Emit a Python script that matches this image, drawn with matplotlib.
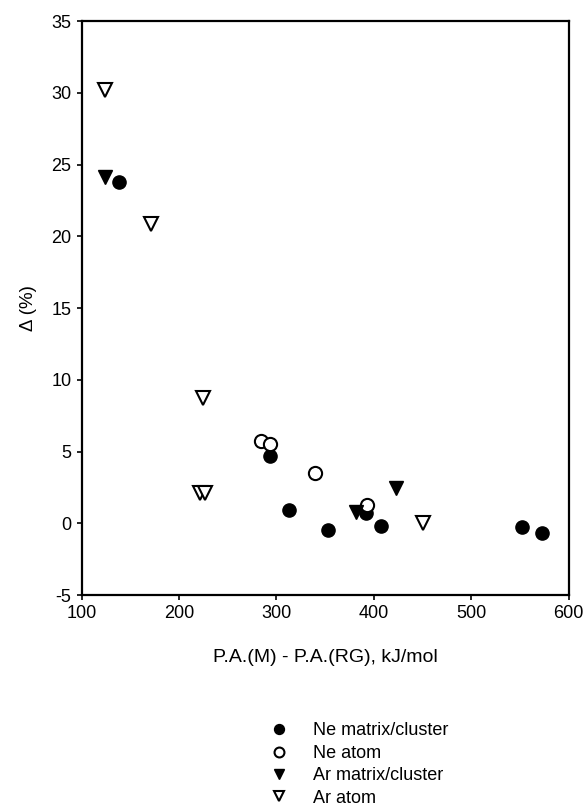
import matplotlib
matplotlib.use("Agg")
import matplotlib.pyplot as plt

plt.rcParams['font.family'] = ['Liberation Sans', 'DejaVu Sans']
plt.rcParams['axes.unicode_minus'] = False

# P.A.(M) - P.A.(RG) in kJ/mol and deviation in %
ne_cluster_x = [138, 293, 313, 353, 392, 407, 552, 572]
ne_cluster_y = [23.8, 4.7, 0.9, -0.5, 0.7, -0.2, -0.25, -0.65]

ne_atom_x = [284, 293, 340, 393]
ne_atom_y = [5.7, 5.55, 3.5, 1.3]

ar_cluster_x = [124, 382, 423]
ar_cluster_y = [24.1, 0.8, 2.45]

ar_atom_x = [124, 171, 225, 222, 227, 450]
ar_atom_y = [30.2, 20.85, 8.7, 2.1, 2.1, 0.0]

labels = ["Ne matrix/cluster", "Ne atom", "Ar matrix/cluster", "Ar atom"]

fig = plt.figure(figsize=(5.87, 8.10), dpi=100)
ax = fig.add_axes([0.139, 0.2654, 0.830, 0.7086])

ms = 9.5
h1, = ax.plot(ne_cluster_x, ne_cluster_y, 'o', color='black', ms=ms, linestyle='none')
h2, = ax.plot(ne_atom_x, ne_atom_y, 'o', mfc='white', mec='black', mew=1.5, ms=ms, linestyle='none')
h3, = ax.plot(ar_cluster_x, ar_cluster_y, 'v', color='black', ms=ms, linestyle='none')
h4, = ax.plot(ar_atom_x, ar_atom_y, 'v', mfc='white', mec='black', mew=1.5, ms=ms, linestyle='none')

ax.set_xlim(100, 600)
ax.set_ylim(-5, 35)
ax.set_xticks(range(100, 601, 100))
ax.set_yticks(range(-5, 36, 5))
ax.tick_params(direction='out', length=3.8, width=1.2, labelsize=13, pad=3.5)
for s in ax.spines.values():
    s.set_linewidth(1.6)

ax.set_xlabel("P.A.(M) - P.A.(RG), kJ/mol", fontsize=14, labelpad=19)
ax.set_ylabel("Δ (%)", fontsize=13.5, labelpad=10)

fig.legend([h1, h2, h3, h4], labels, loc='upper left',
           bbox_to_anchor=(0.447, 0.117), frameon=False, fontsize=13,
           handlelength=1.0, handletextpad=1.4, labelspacing=0.3,
           markerscale=0.75, borderaxespad=0)

fig.savefig("out.png", dpi=100)
